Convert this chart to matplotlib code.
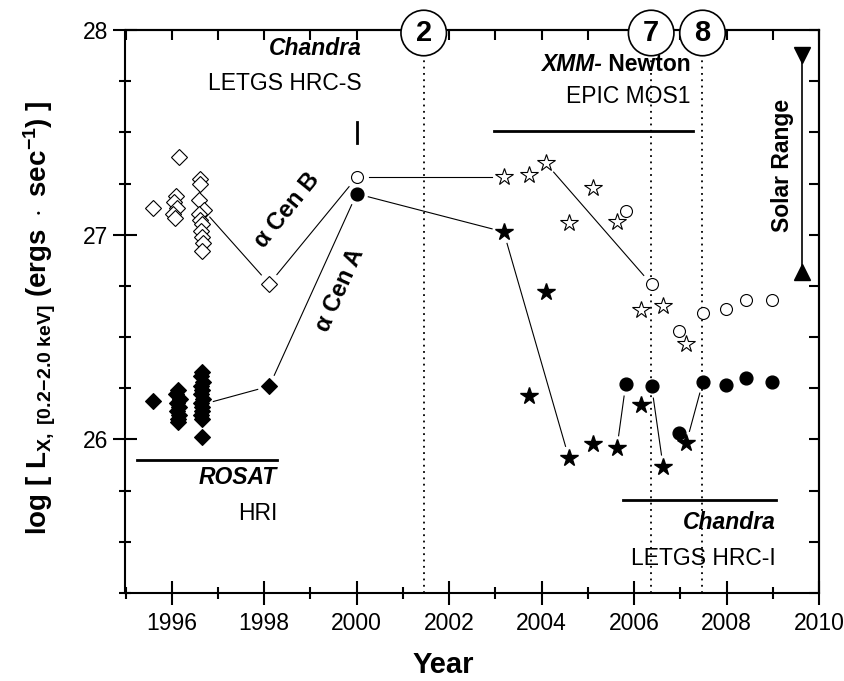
import matplotlib
matplotlib.use("Agg")
import matplotlib.pyplot as plt
from matplotlib.ticker import MultipleLocator, NullFormatter
import numpy as np

plt.rcParams['font.family'] = ['Liberation Sans', 'DejaVu Sans']
plt.rcParams['mathtext.fontset'] = 'custom'
plt.rcParams['mathtext.rm'] = 'Liberation Sans'
plt.rcParams['mathtext.bf'] = 'Liberation Sans:bold'
plt.rcParams['mathtext.it'] = 'Liberation Sans:italic'

# ROSAT HRI, alpha Cen B (open diamonds)
rosat_b_year = [1995.59, 1996.15, 1996.10, 1996.05, 1996.12, 1996.03, 1996.08,
                1996.62, 1996.62, 1996.60, 1996.70, 1996.60, 1996.62, 1996.66,
                1996.64, 1996.66, 1996.68, 1996.66, 1998.11]
rosat_b_log = [27.13, 27.38, 27.19, 27.16, 27.13, 27.10, 27.08,
               27.27, 27.25, 27.17, 27.12, 27.10, 27.07, 27.05,
               27.02, 26.99, 26.96, 26.92, 26.76]
# ROSAT HRI, alpha Cen A (filled diamonds)
rosat_a_year = [1995.59, 1996.14, 1996.10, 1996.17, 1996.12, 1996.15, 1996.11,
                1996.16, 1996.13, 1996.14,
                1996.65, 1996.63, 1996.67, 1996.64, 1996.66, 1996.63, 1996.67,
                1996.64, 1996.66, 1996.65, 1996.63, 1996.66, 1996.65, 1998.11]
rosat_a_log = [26.19, 26.24, 26.22, 26.20, 26.18, 26.16, 26.14,
               26.12, 26.10, 26.085,
               26.33, 26.31, 26.28, 26.26, 26.24, 26.22, 26.20,
               26.18, 26.16, 26.14, 26.12, 26.10, 26.01, 26.26]

# Chandra LETGS HRC-S (2000)
hrcs_year = [2000.0]
hrcs_b_log = [27.28]
hrcs_a_log = [27.20]

# XMM-Newton EPIC MOS1 (stars)
xmm_year = [2003.18, 2003.72, 2004.09, 2004.59, 2005.11, 2005.63, 2006.15, 2006.63, 2007.13]
xmm_b_log = [27.28, 27.29, 27.35, 27.055, 27.23, 27.063, 26.63, 26.65, 26.465]
xmm_a_log = [27.014, 26.21, 26.72, 25.91, 25.98, 25.96, 26.17, 25.866, 25.983]

# Chandra LETGS HRC-I (circles)
hrci_year = [2005.82, 2006.38, 2006.97, 2007.49, 2007.98, 2008.42, 2008.99]
hrci_b_log = [27.117, 26.757, 26.53, 26.617, 26.635, 26.68, 26.68]
hrci_a_log = [26.27, 26.26, 26.03, 26.283, 26.265, 26.298, 26.28]

# connecting lines (year, log)
links = [
    ((1996.65, 27.13), (1998.11, 26.76)),
    ((1998.11, 26.76), (2000.0, 27.28)),
    ((2000.0, 27.28), (2003.18, 27.28)),
    ((2004.09, 27.35), (2006.38, 26.757)),
    ((1996.65, 26.17), (1998.11, 26.26)),
    ((1998.11, 26.26), (2000.0, 27.20)),
    ((2000.0, 27.20), (2003.18, 27.014)),
    ((2003.18, 27.014), (2004.59, 25.91)),
    ((2005.63, 25.96), (2005.82, 26.27)),
    ((2006.38, 26.26), (2006.63, 25.866)),
    ((2007.13, 25.983), (2007.49, 26.283)),
]

# observation epochs marked at the top
epoch_year = [2001.45, 2006.37, 2007.48]
epoch_label = ['2', '7', '8']

solar_range = (26.82, 27.88)

fig = plt.figure(figsize=(8.45, 6.81), dpi=100)
ax = fig.add_axes([125.5 / 845, 1 - 593 / 681, 693.5 / 845, 563 / 681])
ax.set_xlim(1995, 2010)
ax.set_ylim(25.25, 28)

# lines with small gaps at the ends
gap = 12
for p, q in links:
    a = ax.transData.transform(p)
    b = ax.transData.transform(q)
    d = b - a
    u = d / np.hypot(*d)
    a2 = ax.transData.inverted().transform(a + u * gap)
    b2 = ax.transData.inverted().transform(b - u * gap)
    ax.plot([a2[0], b2[0]], [a2[1], b2[1]], color='black', lw=0.8, zorder=2)

ax.plot(rosat_b_year, rosat_b_log, 'D', ms=7.8, mfc='white', mec='black', mew=0.8, zorder=3)
ax.plot(rosat_a_year, rosat_a_log, 'D', ms=7.8, mfc='black', mec='black', mew=0.8, zorder=3)
ax.plot(hrcs_year, hrcs_b_log, 'o', ms=8.6, mfc='white', mec='black', mew=0.8, zorder=3)
ax.plot(hrcs_year, hrcs_a_log, 'o', ms=9.2, mfc='black', mec='black', zorder=3)
ax.plot(xmm_year, xmm_b_log, '*', ms=13, mfc='white', mec='black', mew=0.8, zorder=3)
ax.plot(xmm_year, xmm_a_log, '*', ms=13, mfc='black', mec='black', zorder=3)
ax.plot(hrci_year, hrci_b_log, 'o', ms=8.6, mfc='white', mec='black', mew=0.8, zorder=3)
ax.plot(hrci_year, hrci_a_log, 'o', ms=9.2, mfc='black', mec='black', zorder=3)

# epoch lines and circled numbers
for yr, lab in zip(epoch_year, epoch_label):
    ax.plot([yr, yr], [25.25, 27.86], color='black', lw=1.3, ls=(0, (1, 2.5)), zorder=1)
    ax.text(yr, 1 - 3 / 563, lab, transform=ax.get_xaxis_transform(),
            ha='center', va='center', fontsize=21, fontweight='bold', zorder=10,
            clip_on=False,
            bbox=dict(boxstyle='circle,pad=0.3', fc='white', ec='black', lw=1.2))

# instrument bars
ax.plot([1995.25, 1998.28], [25.9, 25.9], color='black', lw=2)
ax.plot([2002.98, 2007.28], [27.506, 27.506], color='black', lw=2)
ax.plot([2005.75, 2009.06], [25.703, 25.703], color='black', lw=2)
ax.plot([2000.0, 2000.0], [27.45, 27.55], color='black', lw=2)

fs = 16.5
ax.text(2000.1, 27.91, 'Chandra', ha='right', va='center', fontsize=fs,
        fontweight='bold', style='italic')
ax.text(2000.1, 27.74, 'LETGS HRC-S', ha='right', va='center', fontsize=fs)
t_newton = ax.text(2007.22, 27.83, ' Newton', ha='right', va='center', fontsize=fs,
                   fontweight='bold')
ax.text(2007.22, 27.677, 'EPIC MOS1', ha='right', va='center', fontsize=fs)
ax.text(1998.28, 25.815, 'ROSAT', ha='right', va='center', fontsize=fs,
        fontweight='bold', style='italic')
ax.text(1998.28, 25.64, 'HRI', ha='right', va='center', fontsize=fs)
ax.text(2009.06, 25.595, 'Chandra', ha='right', va='center', fontsize=fs,
        fontweight='bold', style='italic')
ax.text(2009.06, 25.42, 'LETGS HRC-I', ha='right', va='center', fontsize=fs)

renderer = fig.canvas.get_renderer()
bb = t_newton.get_window_extent(renderer)
xl = ax.transData.inverted().transform((bb.x0, 0))[0]
ax.text(xl, 27.83, 'XMM-', ha='right', va='center', fontsize=fs,
        fontweight='bold', style='italic')

# alpha Cen labels
ax.text(1998.5, 27.12, 'α Cen B', rotation=51, ha='center', va='center',
        fontsize=17, fontweight='bold', rotation_mode='anchor')
ax.text(1999.64, 26.73, 'α Cen A', rotation=66, ha='center', va='center',
        fontsize=17, fontweight='bold', rotation_mode='anchor')

# solar range
ax.plot([2009.64, 2009.64], [solar_range[0], solar_range[1]], color='black', lw=1.2)
ax.plot([2009.64], [solar_range[1]], 'v', ms=12, color='black')
ax.plot([2009.64], [solar_range[0]], '^', ms=12, color='black')
ax.text(2009.2, 27.34, 'Solar Range', rotation=90, ha='center', va='center',
        fontsize=16.5, fontweight='bold')

# axes styling
for s in ax.spines.values():
    s.set_linewidth(1.5)
ax.xaxis.set_major_locator(MultipleLocator(2))
ax.xaxis.set_minor_locator(MultipleLocator(1))
ax.yaxis.set_major_locator(MultipleLocator(1))
ax.yaxis.set_minor_locator(MultipleLocator(0.25))
ax.set_xticks([1996, 1998, 2000, 2002, 2004, 2006, 2008, 2010])
ax.tick_params(which='major', direction='inout', length=17, width=1.5,
               labelsize=16.5, pad=4)
ax.tick_params(which='minor', direction='inout', length=9, width=1.5)
ax.tick_params(axis='x', which='major', pad=5)

top = ax.secondary_xaxis('top')
top.xaxis.set_major_locator(MultipleLocator(1))
top.xaxis.set_major_formatter(NullFormatter())
top.tick_params(direction='in', length=7, width=1.5)
right = ax.secondary_yaxis('right')
right.yaxis.set_major_locator(MultipleLocator(0.25))
right.yaxis.set_major_formatter(NullFormatter())
right.tick_params(direction='in', length=7, width=1.5)
for sa in (top, right):
    for s in sa.spines.values():
        s.set_linewidth(1.5)

fig.text(0.5 + 0.025, 1 - 665 / 681, 'Year', ha='center', va='center',
         fontsize=21, fontweight='bold')
fig.text(40 / 845, 1 - 318 / 681,
         r'$\mathbf{log\ [\ L_{X,\ [0.2\!-\!2.0\ keV]}\ (ergs\ \cdot\ sec^{-1})\ ]}$',
         rotation=90, ha='center', va='center', fontsize=20)

fig.savefig('out.png', dpi=100)
